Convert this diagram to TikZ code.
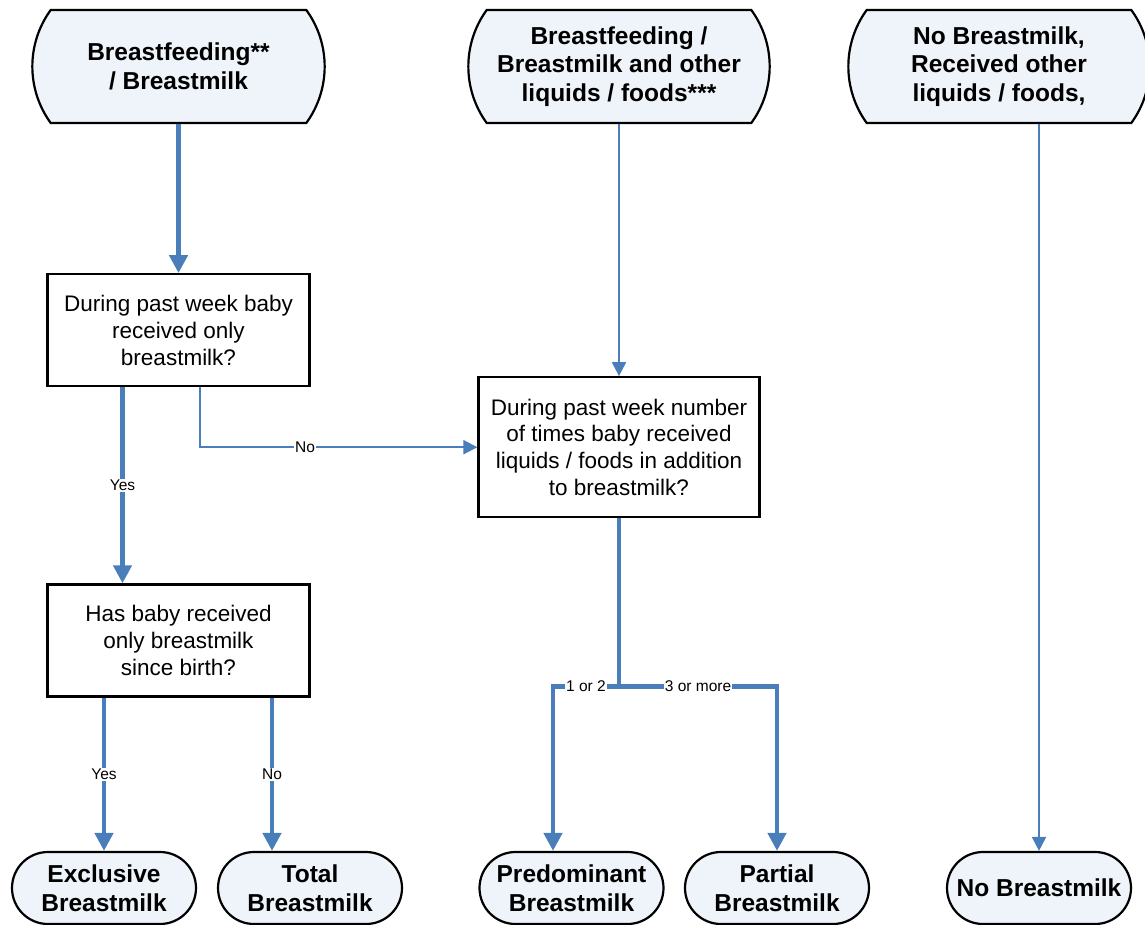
\documentclass[tikz,border=0pt]{standalone}
\usepackage{fontspec}
\setmainfont{Liberation Sans}
\usetikzlibrary{positioning, shapes.misc, arrows.meta}
\definecolor{bmblue}{RGB}{74,126,187}
\definecolor{bmfill}{RGB}{239,243,250}

\begin{document}
\begin{tikzpicture}[
    x=1pt, y=1pt,
    startbox/.style={rounded rectangle, rounded rectangle arc length=72, draw=black, fill=bmfill, line width=2.2pt, minimum width=299pt, minimum height=113pt, align=center, font={\fontsize{24.5}{28.5}\selectfont\bfseries}},
    endbox/.style={rounded rectangle, draw=black, fill=bmfill, line width=2.2pt, minimum width=188pt, minimum height=72pt, inner xsep=2pt, align=center, font={\fontsize{24.5}{29.5}\selectfont\bfseries}},
    qbox/.style={rectangle, draw=black, fill=white, line width=2.2pt, minimum width=262pt, minimum height=112pt, align=center, font={\fontsize{22.5}{26.8}\selectfont}},
    thickline/.style={draw=bmblue, line width=4.5pt},
    thickarrow/.style={thickline, -{Triangle[width=18pt, length=18pt]}},
    thinarrow/.style={draw=bmblue, line width=2pt, -{Triangle[width=14pt, length=14pt]}},
    lbl/.style={fill=white, inner sep=1pt, font={\fontsize{15.5}{18}\selectfont}},
]
    \useasboundingbox (0,0) rectangle (1145,-925);

    % Nodes
    \node[startbox] (bfeed)  at (178.5,-66.5) {Breastfeeding**\\/ Breastmilk};
    \node[startbox, minimum width=308pt] (mixed)  at (619,-66.5) {Breastfeeding /\\Breastmilk and other\\liquids / foods***};
    \node[startbox, minimum width=308pt] (nomilk) at (999,-66.5) {No Breastmilk,\\Received other\\liquids / foods,};

    \node[qbox] (onlyweek) [below=149pt of bfeed]    {During past week baby\\received only\\breastmilk?};
    \node[qbox] (since)    [below=196pt of onlyweek] {Has baby received\\only breastmilk\\since birth?};
    \node[qbox, minimum width=281pt, minimum height=140pt] (times) [below=252pt of mixed] {During past week number\\of times baby received\\liquids / foods in addition\\to breastmilk?};

    \node[endbox] (excl)    at (104,-888)   {Exclusive\\Breastmilk};
    \node[endbox] (total)   at (310,-888)   {Total\\Breastmilk};
    \node[endbox] (pred)    at (571.5,-888) {Predominant\\Breastmilk};
    \node[endbox] (partial) at (777,-888)   {Partial\\Breastmilk};
    \node[endbox] (nobm)    at (1039,-888)  {No Breastmilk};

    \coordinate (fork)   at ([yshift=-168pt]times.south);
    \coordinate (predIn) at ([xshift=-18.5pt]pred.north);

    % Lines
    \draw[thickarrow] (bfeed.south) to (onlyweek.north);
    \draw[thickarrow] ([xshift=-56pt]onlyweek.south) to node[lbl] {Yes} ([xshift=-56pt]onlyweek.south |- since.north);
    \draw[thinarrow] ([xshift=21pt]onlyweek.south) |- node[lbl, pos=0.69] {No} (times.west);

    \draw[thickarrow] (excl.north |- since.south) to node[lbl] {Yes} (excl.north);
    \draw[thickarrow] ([xshift=-38pt]total.north |- since.south) to node[lbl] {No} ([xshift=-38pt]total.north);

    \draw[thinarrow] (mixed.south) to (times.north);
    \draw[thickline] (times.south) to (fork);
    \draw[thickarrow] (fork) -- node[lbl] {1 or 2} (fork -| predIn) -- (predIn);
    \draw[thickarrow] (fork) -- node[lbl] {3 or more} (fork -| partial.north) -- (partial.north);

    \draw[thinarrow] (nobm.north |- nomilk.south) to (nobm.north);

\end{tikzpicture}
\end{document}
